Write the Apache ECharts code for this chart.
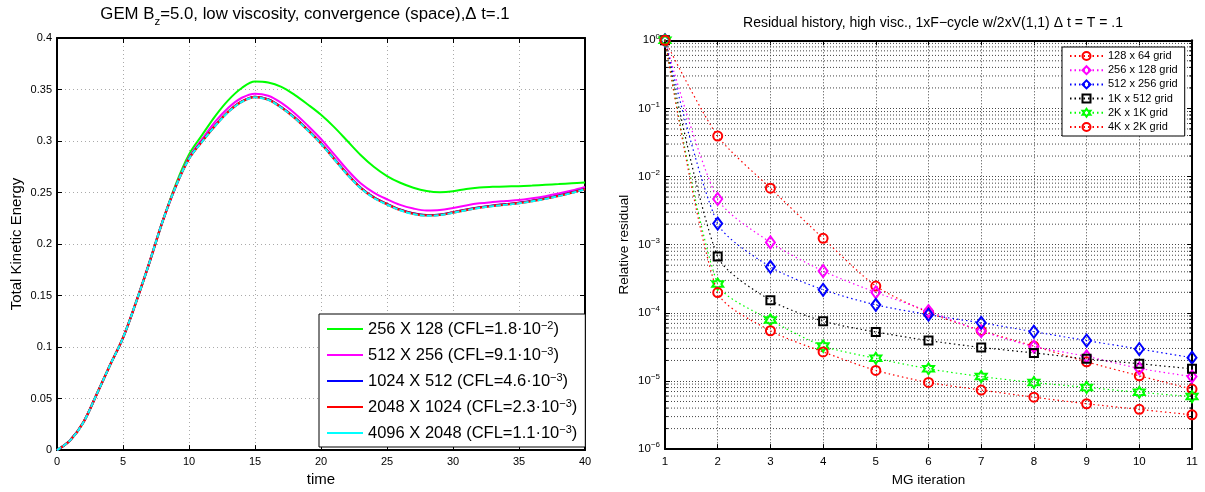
<!DOCTYPE html>
<html>
<head>
<meta charset="utf-8">
<script src="https://cdn.jsdelivr.net/npm/echarts@6/dist/echarts.min.js"></script>
<style>html,body{margin:0;padding:0;background:#fff;}#chart{width:1205px;height:492px;}</style>
</head>
<body>
<div id="chart"></div>
<script>
// ---------------- left panel data ----------------
const timeValues = [0,1,2,3,4,5,6,7,8,9,10,11,12,13,14,15,16,17,18,19,20,21,22,23,24,25,26,27,28,29,30,31,32,33,34,35,36,37,38,39,40];
const ke256x128 = [0,0.0096,0.027,0.054,0.082,0.109,0.144,0.182,0.222,0.258,0.287,0.306,0.3245,0.340,0.3515,0.3578,0.3568,0.3525,0.3448,0.3355,0.3255,0.3135,0.300,0.2865,0.275,0.266,0.2595,0.2547,0.2515,0.2503,0.2512,0.2535,0.2549,0.2555,0.2559,0.2562,0.2568,0.2575,0.2582,0.259,0.2598];
const ke512x256 = [0,0.0096,0.027,0.054,0.082,0.109,0.144,0.182,0.222,0.256,0.284,0.302,0.319,0.3325,0.342,0.346,0.344,0.337,0.327,0.315,0.302,0.287,0.272,0.259,0.250,0.2435,0.238,0.2345,0.2326,0.233,0.235,0.2375,0.2395,0.2408,0.2418,0.2428,0.2445,0.2465,0.249,0.252,0.2555];
const ke1024x512 = [0,0.0096,0.027,0.054,0.082,0.109,0.144,0.182,0.222,0.256,0.283,0.300,0.3155,0.329,0.3385,0.343,0.3405,0.333,0.323,0.311,0.298,0.283,0.268,0.255,0.2455,0.239,0.2335,0.2298,0.2282,0.2287,0.231,0.2335,0.2358,0.2375,0.2388,0.2402,0.2422,0.2445,0.2472,0.2503,0.2538];
const ke2048x1024 = [0,0.0096,0.027,0.054,0.082,0.109,0.144,0.182,0.222,0.256,0.2828,0.2997,0.3152,0.3287,0.3382,0.3427,0.3402,0.3326,0.3226,0.3106,0.2976,0.2826,0.2676,0.2546,0.2451,0.2386,0.2331,0.2294,0.2278,0.2283,0.2306,0.2331,0.2354,0.2371,0.2384,0.2398,0.2418,0.2441,0.2468,0.2499,0.2534];
const ke4096x2048 = [0,0.0096,0.027,0.054,0.082,0.109,0.144,0.182,0.222,0.256,0.2826,0.2994,0.3149,0.3284,0.3379,0.3424,0.3399,0.3323,0.3223,0.3103,0.2973,0.2823,0.2673,0.2543,0.2448,0.2383,0.2328,0.2291,0.2275,0.228,0.2303,0.2328,0.2351,0.2368,0.2381,0.2395,0.2415,0.2438,0.2465,0.2496,0.2531];
const keNames = ['256 X 128','512 X 256','1024 X 512','2048 X 1024','4096 X 2048'];
const cflMantissa = ['1.8','9.1','4.6','2.3','1.1'];
const cflExponent = ['\u22122','\u22123','\u22123','\u22123','\u22123'];

// ---------------- right panel data ----------------
const mgIterations = [1,2,3,4,5,6,7,8,9,10,11];
const res128x64  = [1,0.0393,6.76e-3,1.24e-3,2.47e-4,1.01e-4,5.5e-5,3.25e-5,1.91e-5,1.19e-5,7.6e-6];
const res256x128 = [1,4.69e-3,1.08e-3,4.1e-4,2.0e-4,1.06e-4,5.4e-5,3.2e-5,2.3e-5,1.53e-5,1.16e-5];
const res512x256 = [1,2.04e-3,4.73e-4,2.18e-4,1.31e-4,9.4e-5,7.13e-5,5.28e-5,3.92e-5,2.94e-5,2.2e-5];
const res1Kx512  = [1,6.69e-4,1.53e-4,7.54e-5,5.23e-5,3.92e-5,3.1e-5,2.58e-5,2.11e-5,1.79e-5,1.51e-5];
const res2Kx1K   = [1,2.64e-4,7.87e-5,3.25e-5,2.15e-5,1.51e-5,1.16e-5,9.5e-6,8.05e-6,6.82e-6,5.9e-6];
const res4Kx2K   = [1,1.98e-4,5.46e-5,2.67e-5,1.43e-5,9.5e-6,7.36e-6,5.78e-6,4.63e-6,3.83e-6,3.18e-6];
const resNames = ['128 x 64 grid','256 x 128 grid','512 x 256 grid','1K x 512 grid','2K x 1K grid','4K x 2K grid'];
const logDecades = [-6,-5,-4,-3,-2,-1];
const minorMultipliers = [2,3,4,5,6,7,8,9];

// ---------------- styling ----------------
const FONT = "'Liberation Sans', Arial, Helvetica, sans-serif";
const keColors = ['#00ff00','#ff00ff','#0000ff','#ff0000','#00ffff'];
const resColors = ['#ff0000','#ff00ff','#0000ff','#000000','#00ff00','#ff0000'];

function hexagramPath() {
  const pts = [];
  for (let k = 0; k < 12; k++) {
    const a = (-90 + 30 * k) * Math.PI / 180;
    const r = (k % 2 === 0) ? 10 : 5.774;
    pts.push((10 + r * Math.cos(a)).toFixed(3) + ' ' + (10 + r * Math.sin(a)).toFixed(3));
  }
  return 'path://M' + pts.join(' L') + ' Z';
}
const resSymbols = ['circle','diamond','diamond','rect',hexagramPath(),'circle'];
const resSymbolSizes = [9,[9,12],[9,12],8,11,9];

const keData = [ke256x128, ke512x256, ke1024x512, ke2048x1024, ke4096x2048];
const resData = [res128x64, res256x128, res512x256, res1Kx512, res2Kx1K, res4Kx2K];

function supLabel(exp) { return '{b|10}{e|' + exp + '}'; }

const series = [];
keData.forEach((arr, i) => {
  series.push({
    name: keNames[i], type: 'line', xAxisIndex: 0, yAxisIndex: 0,
    data: timeValues.map((t, j) => [t, arr[j]]),
    symbol: 'none', smooth: 0.35, z: 3 + i,
    lineStyle: { color: keColors[i], width: i === 3 ? 2.4 : 2, type: i === 4 ? [5, 2] : 'solid' },
    itemStyle: { color: keColors[i] }
  });
});

// minor grid lines and minor ticks of the log axis, drawn through the axes
const minorVals = [];
logDecades.forEach(d => minorMultipliers.forEach(m => minorVals.push(m * Math.pow(10, d))));
const xFirst = mgIterations[0], xLast = mgIterations[mgIterations.length - 1];
minorVals.forEach(v => {
  series.push({
    type: 'line', xAxisIndex: 2, yAxisIndex: 2, silent: true, symbol: 'none', z: 1,
    data: [[xFirst, v], [xLast, v]],
    lineStyle: { color: '#444', type: [1, 2], width: 1 }
  });
  series.push({
    type: 'line', xAxisIndex: 2, yAxisIndex: 2, silent: true, symbol: 'none', z: 2,
    data: [[xFirst, v], [xFirst + 0.055, v]],
    lineStyle: { color: '#000', type: 'solid', width: 1 }
  });
  series.push({
    type: 'line', xAxisIndex: 2, yAxisIndex: 2, silent: true, symbol: 'none', z: 2,
    data: [[xLast - 0.055, v], [xLast, v]],
    lineStyle: { color: '#000', type: 'solid', width: 1 }
  });
});

resData.forEach((arr, i) => {
  series.push({
    name: resNames[i], type: 'line', xAxisIndex: 2, yAxisIndex: 2,
    data: mgIterations.map((x, j) => [x, arr[j]]),
    symbol: resSymbols[i], symbolSize: resSymbolSizes[i], showSymbol: true,
    smooth: 0.25, z: 3 + i,
    lineStyle: { color: resColors[i], width: 1.2, type: [1.5, 3] },
    itemStyle: { color: 'rgba(255,255,255,0)', borderColor: resColors[i], borderWidth: 2 }
  });
});

const axisLabelBase = { color: '#000', fontFamily: FONT, fontSize: 11 };

const option = {
  animation: false,
  backgroundColor: '#fff',
  title: [
    {
      text: '{a|GEM B}{s|z}{a|=5.0, low viscosity, convergence (space),\u0394 t=.1}',
      left: 300, top: -4, textAlign: 'center',
      textStyle: {
        fontWeight: 'normal',
        rich: {
          a: { fontFamily: FONT, fontSize: 16.8, fontWeight: 'normal', color: '#000' },
          s: { fontFamily: FONT, fontSize: 11.5, fontWeight: 'normal', color: '#000', padding: [15, 0, 0, 0] }
        }
      }
    },
    {
      text: 'Residual history, high visc., 1xF\u2212cycle w/2xV(1,1) \u0394 t = T = .1',
      left: 928, top: 11, textAlign: 'center',
      textStyle: { fontFamily: FONT, fontSize: 14, fontWeight: 'normal', color: '#000' }
    }
  ],
  legend: [
    {
      data: keNames, orient: 'vertical', left: 319, top: 314,
      icon: 'rect', itemWidth: 36, itemHeight: 2, itemGap: 8,
      padding: [6, 8, 5, 8],
      borderColor: '#000', borderWidth: 1, backgroundColor: '#fff',
      selectedMode: false,
      formatter: name => {
        const i = keNames.indexOf(name);
        return '{t|' + name + ' (CFL=' + cflMantissa[i] + '\u00b710}{s|' + cflExponent[i] + '}{t|)}';
      },
      textStyle: {
        lineHeight: 18,
        rich: {
          t: { fontFamily: FONT, fontSize: 16.5, lineHeight: 18, color: '#000' },
          s: { fontFamily: FONT, fontSize: 11, lineHeight: 10, verticalAlign: 'top', color: '#000' }
        }
      }
    },
    {
      data: resNames, orient: 'vertical', left: 1062, top: 47,
      itemWidth: 33, itemHeight: 10, itemGap: 2.2,
      padding: [3, 7, 3, 7],
      borderColor: '#000', borderWidth: 1, backgroundColor: '#fff',
      selectedMode: false,
      textStyle: { fontFamily: FONT, fontSize: 11, lineHeight: 12, color: '#000' }
    }
  ],
  grid: [
    { left: 57, top: 38, width: 528, height: 415.3, containLabel: false },
    { left: 665, top: 40.3, width: 527, height: 415.7, containLabel: false }
  ],
  xAxis: [
    {
      gridIndex: 0, type: 'value', min: 0, max: 40, interval: 5, position: 'bottom',
      name: 'time', nameLocation: 'middle', nameGap: 18,
      nameTextStyle: { fontFamily: FONT, fontSize: 15, color: '#000' },
      axisLine: { show: true, onZero: false, lineStyle: { color: '#000', width: 2 } },
      axisTick: { show: true, inside: true, length: 5, lineStyle: { color: '#000', width: 1 } },
      axisLabel: Object.assign({ margin: 6 }, axisLabelBase),
      splitLine: { show: true, lineStyle: { color: '#aaa', type: [1, 3], width: 1 } }
    },
    {
      gridIndex: 0, type: 'value', min: 0, max: 40, interval: 5, position: 'top',
      axisLine: { show: true, onZero: false, lineStyle: { color: '#000', width: 2 } },
      axisTick: { show: true, inside: true, length: 5, lineStyle: { color: '#000', width: 1 } },
      axisLabel: { show: false }, splitLine: { show: false }
    },
    {
      gridIndex: 1, type: 'value', min: 1, max: 11, interval: 1, position: 'bottom',
      name: 'MG iteration', nameLocation: 'middle', nameGap: 19,
      nameTextStyle: { fontFamily: FONT, fontSize: 13.5, color: '#000' },
      axisLine: { show: true, onZero: false, lineStyle: { color: '#000', width: 2 } },
      axisTick: { show: true, inside: true, length: 5, lineStyle: { color: '#000', width: 1 } },
      axisLabel: Object.assign({ margin: 7 }, axisLabelBase, { fontSize: 11.5 }),
      splitLine: { show: true, lineStyle: { color: '#444', type: [1, 2], width: 1 } }
    },
    {
      gridIndex: 1, type: 'value', min: 1, max: 11, interval: 1, position: 'top',
      axisLine: { show: true, onZero: false, lineStyle: { color: '#000', width: 2 } },
      axisTick: { show: true, inside: true, length: 5, lineStyle: { color: '#000', width: 1 } },
      axisLabel: { show: false }, splitLine: { show: false }
    }
  ],
  yAxis: [
    {
      gridIndex: 0, type: 'value', min: 0, max: 0.4, interval: 0.05, position: 'left',
      name: 'Total Kinetic Energy', nameLocation: 'middle', nameGap: 33,
      nameTextStyle: { fontFamily: FONT, fontSize: 15, color: '#000' },
      axisLine: { show: true, onZero: false, lineStyle: { color: '#000', width: 2 } },
      axisTick: { show: true, inside: true, length: 5, lineStyle: { color: '#000', width: 1 } },
      axisLabel: Object.assign({ margin: 5 }, axisLabelBase),
      splitLine: { show: true, lineStyle: { color: '#aaa', type: [1, 3], width: 1 } }
    },
    {
      gridIndex: 0, type: 'value', min: 0, max: 0.4, interval: 0.05, position: 'right',
      axisLine: { show: true, onZero: false, lineStyle: { color: '#000', width: 2 } },
      axisTick: { show: true, inside: true, length: 5, lineStyle: { color: '#000', width: 1 } },
      axisLabel: { show: false }, splitLine: { show: false }
    },
    {
      gridIndex: 1, type: 'log', logBase: 10, min: 1e-6, max: 1, splitNumber: 6, position: 'left',
      name: 'Relative residual', nameLocation: 'middle', nameGap: 34,
      nameTextStyle: { fontFamily: FONT, fontSize: 13.5, color: '#000' },
      axisLine: { show: true, onZero: false, lineStyle: { color: '#000', width: 2 } },
      axisTick: { show: true, inside: true, length: 5, lineStyle: { color: '#000', width: 1 } },
      axisLabel: {
        margin: 5, color: '#000',
        formatter: v => {
          const e = Math.round(Math.log10(v));
          return supLabel(e < 0 ? '\u2212' + (-e) : String(e));
        },
        rich: {
          b: { fontFamily: FONT, fontSize: 11.5, lineHeight: 16, color: '#000' },
          e: { fontFamily: FONT, fontSize: 8, lineHeight: 8, verticalAlign: 'top', color: '#000' }
        }
      },
      splitLine: { show: true, lineStyle: { color: '#444', type: [1, 2], width: 1 } }
    },
    {
      gridIndex: 1, type: 'log', logBase: 10, min: 1e-6, max: 1, splitNumber: 6, position: 'right',
      axisLine: { show: true, onZero: false, lineStyle: { color: '#000', width: 2 } },
      axisTick: { show: true, inside: true, length: 5, lineStyle: { color: '#000', width: 1 } },
      axisLabel: { show: false }, splitLine: { show: false }
    }
  ],
  series: series
};

const chart = echarts.init(document.getElementById('chart'), null, { renderer: 'canvas', width: 1205, height: 492 });
chart.setOption(option);
</script>
</body>
</html>
